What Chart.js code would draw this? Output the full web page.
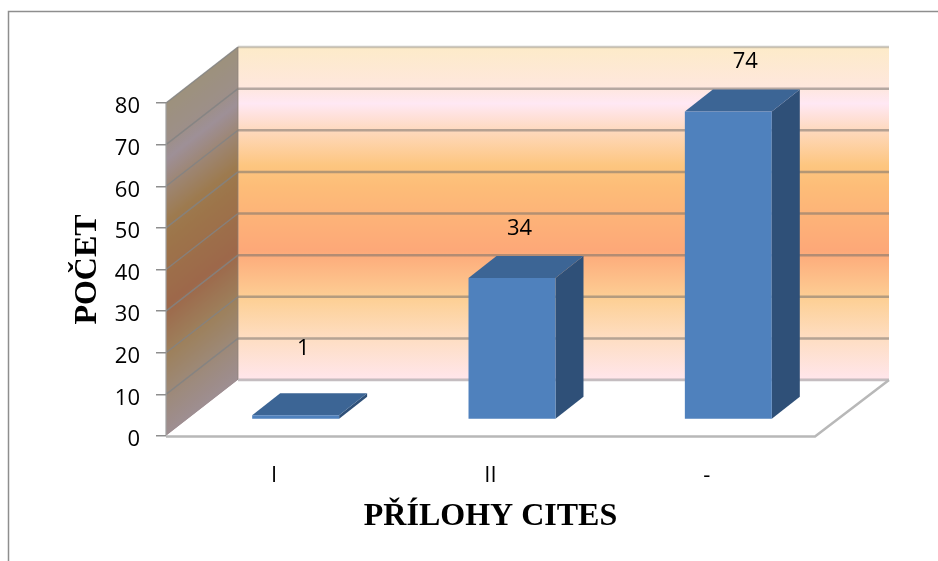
<!DOCTYPE html>
<html>
<head>
<meta charset="utf-8">
<title>Přílohy CITES</title>
<script src="https://cdn.jsdelivr.net/npm/chart.js@4"></script>
<style>
    html, body { margin: 0; padding: 0; background: #fff; }
    canvas { display: block; }
</style>
</head>
<body>
<canvas id="citesChart" width="938" height="561"></canvas>
<script>
const categories = ['I', 'II', '-'];
const counts = [1, 34, 74];
const countTicks = [0, 10, 20, 30, 40, 50, 60, 70, 80];

const TICK_FONT = { family: '"Open Sans"', size: 22 };
const TITLE_FONT = { family: '"Liberation Serif"', size: 32, weight: 'bold' };

// receding depth of the box walls, and of the bars standing inside it
const WALL_DX = 72, WALL_DY = -56;
const BAR_SHIFT_X = 21.5, BAR_SHIFT_Y = -16.5;
const BAR_DX = 28, BAR_DY = -22;

const wallStops = [
    [0, '#FDEBC9'], [0.12, '#FEE7DD'], [0.17, '#FFE8F4'], [0.25, '#FED9BE'],
    [0.355, '#FDC680'], [0.415, '#FDBD78'], [0.61, '#FDA878'], [0.76, '#FDD096'],
    [0.88, '#FEDEC4'], [1, '#FFE6EC']
];

function wallGradient(ctx, top, bottom) {
    const g = ctx.createLinearGradient(0, top, 0, bottom);
    wallStops.forEach(s => g.addColorStop(s[0], s[1]));
    return g;
}

function line(ctx, pts, color, width) {
    ctx.beginPath();
    pts.forEach((p, i) => i ? ctx.lineTo(p[0], p[1]) : ctx.moveTo(p[0], p[1]));
    ctx.strokeStyle = color;
    ctx.lineWidth = width;
    ctx.stroke();
}

function poly(ctx, pts, color) {
    ctx.beginPath();
    pts.forEach((p, i) => i ? ctx.lineTo(p[0], p[1]) : ctx.moveTo(p[0], p[1]));
    ctx.closePath();
    ctx.fillStyle = color;
    ctx.fill();
}

const boxPlugin = {
    id: 'box',
    beforeDraw(chart) {
        const ctx = chart.ctx;
        const { left, right, top, bottom } = chart.chartArea;
        const yScale = chart.scales.y;
        const backL = left + WALL_DX, backR = right + WALL_DX + 2;

        ctx.save();
        // outer frame, only top and left are inside the page
        line(ctx, [[8.5, 561], [8.5, 11.5], [938, 11.5]], '#8E8E8E', 1.5);

        // back wall
        ctx.fillStyle = wallGradient(ctx, top + WALL_DY, bottom + WALL_DY);
        ctx.fillRect(backL, top + WALL_DY, backR - backL, bottom - top);

        // side wall, same gradient sheared along the depth and darkened
        ctx.save();
        const k = WALL_DY / WALL_DX;
        ctx.transform(1, k, 0, 1, 0, -left * k);
        ctx.fillStyle = wallGradient(ctx, top, bottom);
        ctx.fillRect(left, top, WALL_DX, bottom - top);
        ctx.fillStyle = 'rgba(0,0,0,0.38)';
        ctx.fillRect(left, top, WALL_DX, bottom - top);
        ctx.restore();

        // grid lines wrap round side wall and back wall
        yScale.ticks.forEach(t => {
            const y = yScale.getPixelForValue(t.value);
            if (t.value > 0) {
                line(ctx, [[left, y], [backL, y + WALL_DY]], 'rgba(130,130,130,0.85)', 1.5);
            }
            line(ctx, [[backL, y + WALL_DY], [backR, y + WALL_DY]],
                t.value === 80 ? 'rgba(170,165,155,0.6)' : 'rgba(120,115,110,0.55)', 2.5);
        });
        line(ctx, [[left, top], [left, bottom]], 'rgba(160,160,160,0.8)', 1.5);
        line(ctx, [[backL, top + WALL_DY], [backL, bottom + WALL_DY]], 'rgba(140,130,120,0.5)', 1.5);

        // floor
        poly(ctx, [[left, bottom], [backL, bottom + WALL_DY], [backR, bottom + WALL_DY], [right, bottom]], '#fff');
        line(ctx, [[backL, bottom + WALL_DY], [backR, bottom + WALL_DY]], '#C4BDC0', 2.5);
        line(ctx, [[left, bottom + 0.5], [right, bottom + 0.5], [backR, bottom + WALL_DY]], '#B8B8B8', 2.5);
        ctx.restore();
    },
    beforeDatasetDraw(chart, args) {
        const ctx = chart.ctx;
        ctx.save();
        ctx.translate(BAR_SHIFT_X, BAR_SHIFT_Y);
        chart.getDatasetMeta(args.index).data.forEach(bar => {
            const l = bar.x - bar.width / 2, r = bar.x + bar.width / 2;
            // side and top faces of each column
            poly(ctx, [[r, bar.y], [r + BAR_DX, bar.y + BAR_DY], [r + BAR_DX, bar.base + BAR_DY], [r, bar.base]], '#2F5078');
            poly(ctx, [[l, bar.y], [l + BAR_DX, bar.y + BAR_DY], [r + BAR_DX, bar.y + BAR_DY], [r, bar.y]], '#3C6595');
        });
    },
    afterDatasetDraw(chart) {
        chart.ctx.restore();
    },
    afterDatasetsDraw(chart) {
        const ctx = chart.ctx;
        ctx.save();
        ctx.font = TICK_FONT.size + 'px ' + TICK_FONT.family;
        ctx.fillStyle = '#000';
        ctx.textAlign = 'center';
        ctx.textBaseline = 'middle';
        chart.getDatasetMeta(0).data.forEach((bar, i) => {
            // the tallest label sits further along the depth, the flat one higher up
            const nudgeX = i === 2 ? 17 : 7.5;
            const lift = [67, 49, 50][i];
            ctx.fillText(String(counts[i]), bar.x + BAR_SHIFT_X + nudgeX, bar.y + BAR_SHIFT_Y - lift);
        });
        ctx.restore();
    }
};

new Chart(document.getElementById('citesChart').getContext('2d'), {
    type: 'bar',
    data: {
        labels: categories,
        datasets: [{
            data: counts,
            backgroundColor: '#4F81BD',
            borderWidth: 0,
            barPercentage: 0.402,
            categoryPercentage: 1
        }]
    },
    options: {
        responsive: false,
        animation: false,
        layout: { padding: { top: 103, right: 123, left: 0, bottom: 0 } },
        plugins: { legend: { display: false }, tooltip: { enabled: false } },
        scales: {
            x: {
                grid: { display: false },
                border: { display: false },
                ticks: { color: '#000', font: TICK_FONT, padding: 19, maxRotation: 0 },
                title: {
                    display: true,
                    text: 'PŘÍLOHY CITES',
                    color: '#000',
                    font: TITLE_FONT,
                    padding: { top: 0, bottom: 25 }
                },
                afterFit: s => { s.height = 125; }
            },
            y: {
                min: 0,
                max: 80,
                afterBuildTicks: s => { s.ticks = countTicks.map(v => ({ value: v })); },
                grid: { drawOnChartArea: false, tickLength: 10, color: '#8E8E8E', lineWidth: 1.5 },
                border: { display: false },
                ticks: { color: '#000', font: TICK_FONT, padding: 16, labelOffset: 4 },
                title: {
                    display: true,
                    text: 'POČET',
                    color: '#000',
                    font: TITLE_FONT,
                    padding: { top: 69, bottom: 0 }
                },
                afterFit: s => { s.width = 166; }
            }
        }
    },
    plugins: [boxPlugin]
});
</script>
</body>
</html>
